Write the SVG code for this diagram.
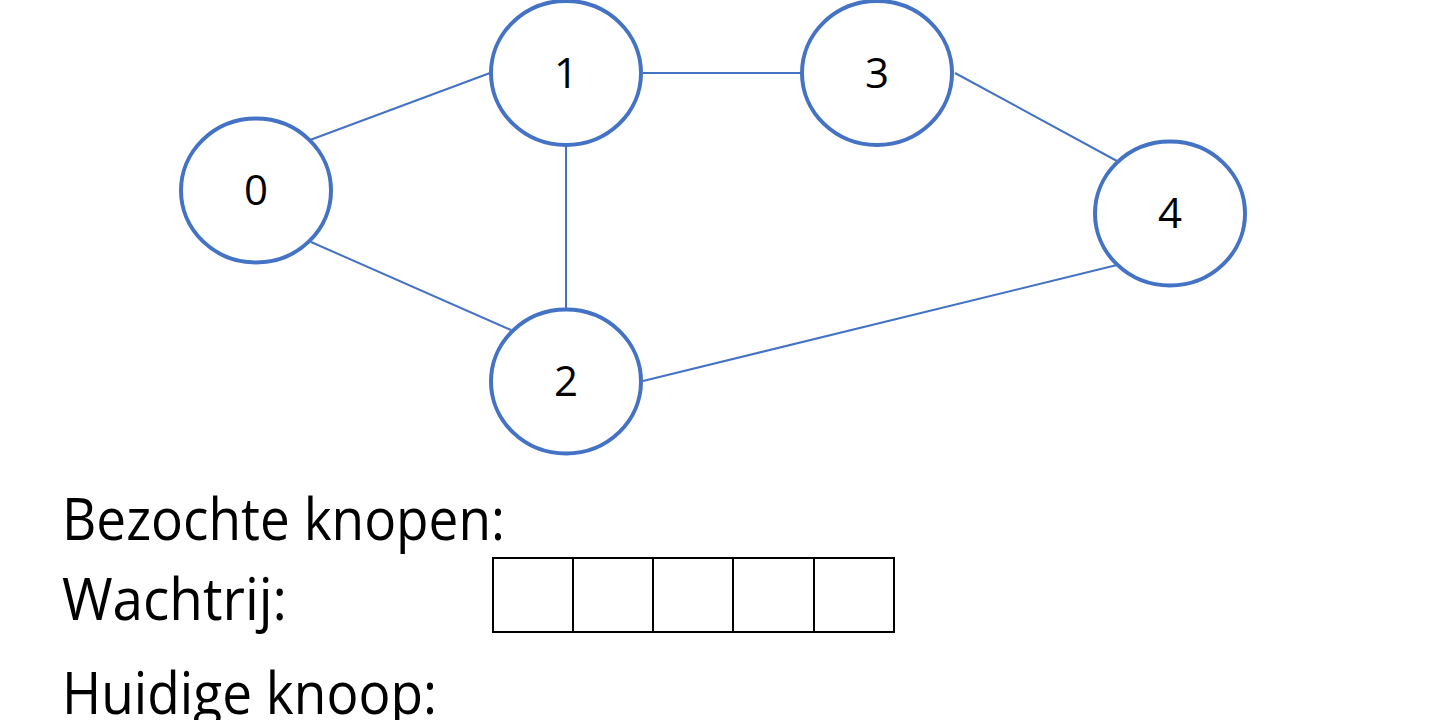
<svg xmlns="http://www.w3.org/2000/svg" width="1456" height="720" viewBox="0 0 1456 720">
<style>
.node{fill:#fff;stroke:#4472C4;stroke-width:4}
.edge{stroke:#4472C4;stroke-width:2;fill:none}
.lbl{font-family:"Open Sans","Liberation Sans",sans-serif;font-size:42px;fill:#000;text-anchor:middle}
.big{font-family:"Open Sans","Liberation Sans",sans-serif;font-size:58px;fill:#000}
.cell{fill:#fff;stroke:#000;stroke-width:2}
</style>
<rect width="1456" height="720" fill="#fff"/>
<g id="connectors">
<line class="edge" x1="310" y1="140" x2="490" y2="73"/>
<line class="edge" x1="311" y1="242" x2="511" y2="330"/>
<line class="edge" x1="566" y1="147" x2="566" y2="309"/>
<line class="edge" x1="643" y1="73" x2="802" y2="73"/>
<line class="edge" x1="955" y1="73" x2="1117" y2="161"/>
<line class="edge" x1="643" y1="381" x2="1117" y2="265"/>
</g>
<g id="node0"><ellipse class="node" cx="256" cy="190.5" rx="75" ry="72"/><text class="lbl" x="256" y="205">0</text></g>
<g id="node1"><ellipse class="node" cx="566" cy="73" rx="75" ry="72"/><text class="lbl" x="566" y="88">1</text></g>
<g id="node3"><ellipse class="node" cx="877" cy="73" rx="75" ry="72"/><text class="lbl" x="877" y="88">3</text></g>
<g id="node4"><ellipse class="node" cx="1170" cy="213.5" rx="75" ry="72"/><text class="lbl" x="1170" y="228">4</text></g>
<g id="node2"><ellipse class="node" cx="566" cy="381.5" rx="75" ry="72"/><text class="lbl" x="566" y="396">2</text></g>
<g id="labels">
<text class="big" x="62" y="540" textLength="443" lengthAdjust="spacingAndGlyphs">Bezochte knopen:</text>
<text class="big" x="62" y="620" textLength="225" lengthAdjust="spacingAndGlyphs">Wachtrij:</text>
<text class="big" x="62" y="714" textLength="375" lengthAdjust="spacingAndGlyphs">Huidige knoop:</text>
</g>
<g id="queue">
<rect class="cell" x="493" y="558" width="80" height="74"/>
<rect class="cell" x="573" y="558" width="80" height="74"/>
<rect class="cell" x="653" y="558" width="80" height="74"/>
<rect class="cell" x="733" y="558" width="81" height="74"/>
<rect class="cell" x="814" y="558" width="80" height="74"/>
</g>
</svg>
